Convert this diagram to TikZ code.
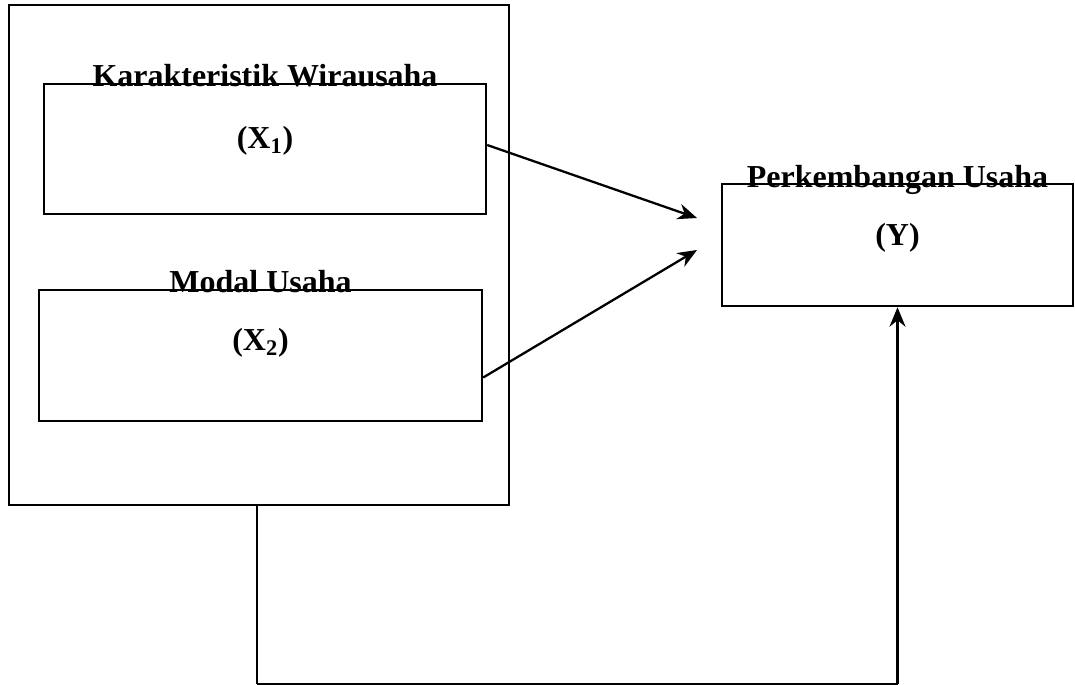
\documentclass[tikz,border=0pt]{standalone}
\usepackage{fontspec}
\setmainfont{Liberation Serif}
\usetikzlibrary{arrows.meta,positioning,calc}
\tikzset{
    box line/.style={line width=1.4pt},
    outer line/.style={line width=1pt},
    var box/.style={draw,box line,inner sep=0pt},
    title/.style={anchor=base,inner sep=0pt},
    var name/.style={anchor=base,inner sep=0pt},
    arr/.style={-{Stealth[length=11pt,width=9pt]},line width=1.3pt},
    feed arr/.style={-{Stealth[length=11pt,width=9pt]},line width=2pt},
}
\tikzstyle{every node}=[font=\fontsize{18.2}{20}\selectfont\bfseries]

\begin{document}
\begin{tikzpicture}[x=0.02cm,y=-0.02cm]
        \useasboundingbox (0,0) rectangle (1075,684);
        % independent variables
        \node[draw,outer line,minimum width=10cm,minimum height=10cm] (outer) at (259,255) {};
        \node[var box,minimum width=8.84cm,minimum height=2.6cm] (x1) at (265,149) {};
        \node[var box,minimum width=8.86cm,minimum height=2.62cm] (x2) at (260.5,355.5) {};
        \node[title] (t1) at ($(x1.north)+(0,4)$) {Karakteristik Wirausaha};
        \node[var name] (n1) at ($(x1.north)+(0,66)$) {(X\textsubscript{1})};
        \node[title] (t2) at ($(x2.north)+(0,4)$) {Modal Usaha};
        \node[var name] (n2) at ($(x2.north)+(0,62)$) {(X\textsubscript{2})};
        % dependent variable
        \node[var box,minimum width=7.02cm,minimum height=2.44cm] (y) at (897.5,245) {};
        \node[title] (ty) at ($(y.north)+(0,5)$) {Perkembangan Usaha};
        \node[var name] (ny) at ($(y.north)+(0,63)$) {(Y)};
        % arrows
        \coordinate (h1) at (697,218);
        \coordinate (h2) at (697,250);
        \draw[arr] ($(x1.east)+(0,-4)$) -- (h1);
        \draw[arr] ($(x2.east)+(0,22)$) -- (h2);
        \coordinate (fb) at ($(outer.south)+(-2,178)$);
        \draw[line width=0.6pt] ($(outer.south)+(-2,0)$) -- (fb);
        \draw[outer line] (fb) -- (fb -| y.south);
        \draw[feed arr] (fb -| y.south) -- (y.south);
    \end{tikzpicture}
\end{document}
